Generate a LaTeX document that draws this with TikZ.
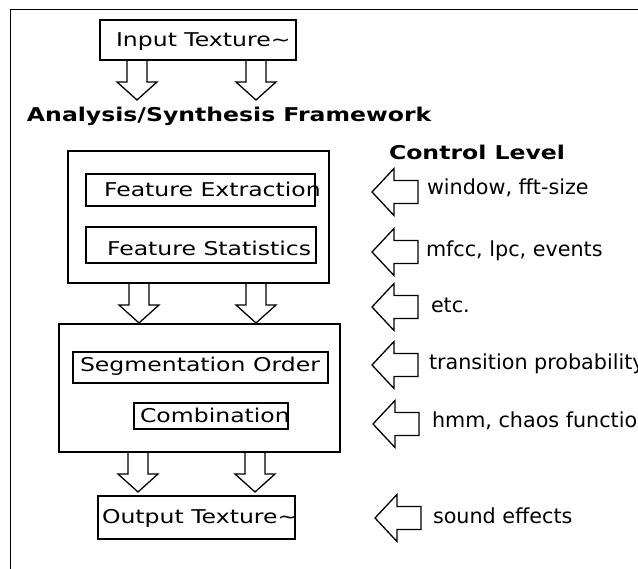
\documentclass[tikz,border=0pt]{standalone}
\usepackage{fontspec}
\setmainfont{DejaVu Sans}[FakeStretch=1.24]
\newfontfamily\plainsans{DejaVu Sans}
\begin{document}
\begin{tikzpicture}[x=1pt,y=-1pt,
  every node/.style={inner sep=0pt,outer sep=0pt},
  lbl/.style={anchor=base west,font=\fontsize{19}{22}\selectfont},
  rlbl/.style={anchor=base west,font=\plainsans\fontsize{20.7}{24}\selectfont},
  blbl/.style={anchor=base west,font=\fontsize{19}{22}\selectfont\bfseries},
  outerbox/.style={draw,line width=2.6pt},
  innerbox/.style={draw,line width=1.4pt},
  blockarrow/.style={draw,line width=1.3pt,line join=miter},
  pics/darr/.style={code={\draw[blockarrow] (-10,0) -- (10,0) -- (10,22) -- (20,22) -- (0,40) -- (-20,22) -- (-10,22) -- cycle;}},
  pics/larr/.style={code={\draw[blockarrow] (0,0) -- (22,-23.5) -- (22,-11.5) -- (46,-11.5) -- (46,11.5) -- (22,11.5) -- (22,23.5) -- cycle;}}
]
\useasboundingbox (0,0) rectangle (638,569);
% frame
\draw[line width=1pt] (10,569) -- (10,10) -- (638,10);

% input
\node[outerbox,minimum width=196pt,minimum height=40pt,anchor=north west] (inbox) at (100,20) {};
\node[lbl] (intxt) at (116,47) {Input Texture\textasciitilde};
\pic at (137,60) {darr};
\pic at (256,60) {darr};

\node[blbl] (title) at (27,122) {Analysis/Synthesis Framework};

% box 1
\node[outerbox,minimum width=261pt,minimum height=132pt,anchor=north west] (box1) at (68,151) {};
\node[innerbox,minimum width=229pt,minimum height=32pt,anchor=north west] (fexbox) at (86,174) {};
\node[lbl] (fex) at (104,197) {Feature Extraction};
\node[innerbox,minimum width=230pt,minimum height=36pt,anchor=north west] (fstbox) at (86,227) {};
\node[lbl] (fst) at (107,256) {Feature Statistics};
\pic at (139,283) {darr};
\pic at (256,283) {darr};

% box 2
\node[outerbox,minimum width=281pt,minimum height=128pt,anchor=north west] (box2) at (59,324) {};
\node[innerbox,minimum width=255pt,minimum height=31pt,anchor=north west] (segbox) at (73,352) {};
\node[lbl] (seg) at (80,372) {Segmentation Order};
\node[innerbox,minimum width=154pt,minimum height=26pt,anchor=north west] (combox) at (134,403) {};
\node[lbl] (com) at (140,423) {Combination};
\pic at (138,452) {darr};
\pic at (255,452) {darr};

% output
\node[outerbox,minimum width=197pt,minimum height=43pt,anchor=north west] (outbox) at (98,496) {};
\node[lbl] (outtxt) at (102,523) {Output Texture\textasciitilde};

% control level
\node[blbl] (ctl) at (389,160) {Control Level};
\pic at (372,192) {larr};
\node[rlbl] (c1) at (427,195) {window, fft-size};
\pic at (372,252) {larr};
\node[rlbl] (c2) at (426,257) {mfcc, lpc, events};
\pic at (372,307) {larr};
\node[rlbl] (c3) at (431,313) {etc.};
\pic at (372,365) {larr};
\node[rlbl] (c4) at (429,370) {transition probability};
\pic at (373,424) {larr};
\node[rlbl] (c5) at (432,428) {hmm, chaos function};
\pic at (375,518) {larr};
\node[rlbl] (c6) at (433,523) {sound effects};
\end{tikzpicture}
\end{document}
